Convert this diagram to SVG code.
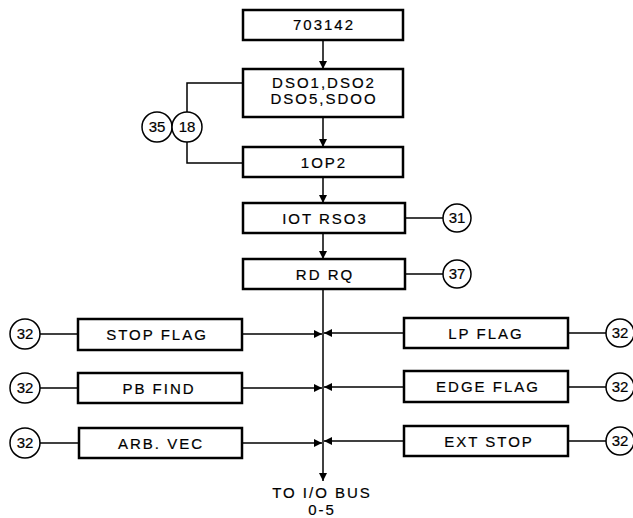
<svg xmlns="http://www.w3.org/2000/svg" width="633" height="518" viewBox="0 0 633 518">
<style>
.box{fill:#fff;stroke:#000;stroke-width:2.5}
.circ{fill:#fff;stroke:#000;stroke-width:1.5}
.ln{fill:none;stroke:#000;stroke-width:1.5}
text{font-family:"Liberation Sans",Arial,sans-serif;font-size:15px;letter-spacing:2px;fill:#000;stroke:#000;stroke-width:0.2;text-anchor:middle}
.cn{font-size:15px;letter-spacing:0px}
</style>
<defs>
<marker id="ah" viewBox="0 0 10 10" refX="10" refY="5" markerWidth="10" markerHeight="8" markerUnits="userSpaceOnUse" orient="auto">
<path d="M0,0 L10,5 L0,10 z" fill="#000"/>
</marker>
</defs>
<rect x="0" y="0" width="633" height="518" fill="#fff"/>
<g id="connectors">
<line class="ln" x1="323" y1="40" x2="323" y2="69" marker-end="url(#ah)"/>
<line class="ln" x1="323" y1="117" x2="323" y2="147" marker-end="url(#ah)"/>
<line class="ln" x1="323" y1="177" x2="323" y2="203" marker-end="url(#ah)"/>
<line class="ln" x1="323" y1="233" x2="323" y2="259" marker-end="url(#ah)"/>
<line class="ln" x1="323" y1="289" x2="323" y2="481" marker-end="url(#ah)"/>
<polyline class="ln" points="243,83 187,83 187,112"/>
<polyline class="ln" points="187,142 187,163 243,163"/>
<line class="ln" x1="405" y1="218" x2="443" y2="218"/>
<line class="ln" x1="405" y1="274" x2="443" y2="274"/>
<line class="ln" x1="40" y1="334" x2="78" y2="334"/>
<line class="ln" x1="40" y1="388" x2="78" y2="388"/>
<line class="ln" x1="40" y1="443" x2="78" y2="443"/>
<line class="ln" x1="242" y1="334" x2="322" y2="334" marker-end="url(#ah)"/>
<line class="ln" x1="242" y1="388" x2="322" y2="388" marker-end="url(#ah)"/>
<line class="ln" x1="242" y1="443" x2="322" y2="443" marker-end="url(#ah)"/>
<line class="ln" x1="404" y1="333" x2="324" y2="333" marker-end="url(#ah)"/>
<line class="ln" x1="404" y1="387" x2="324" y2="387" marker-end="url(#ah)"/>
<line class="ln" x1="404" y1="441" x2="324" y2="441" marker-end="url(#ah)"/>
<line class="ln" x1="568" y1="333" x2="606" y2="333"/>
<line class="ln" x1="568" y1="387" x2="606" y2="387"/>
<line class="ln" x1="568" y1="441" x2="606" y2="441"/>
</g>
<g id="n703142"><rect class="box" x="243" y="10" width="160" height="30"/><text x="324" y="30">703142</text></g>
<g id="nDSO"><rect class="box" x="243" y="69" width="160" height="48"/><text x="324" y="88">DSO1,DSO2</text><text x="324" y="104">DSO5,SDOO</text></g>
<g id="n1OP2"><rect class="box" x="243" y="147" width="160" height="30"/><text x="324" y="168">1OP2</text></g>
<g id="nIOT"><rect class="box" x="243" y="203" width="162" height="30"/><text x="325" y="224">IOT RSO3</text></g>
<g id="nRDRQ"><rect class="box" x="243" y="259" width="162" height="30"/><text x="325" y="280">RD RQ</text></g>
<g id="c35"><circle class="circ" cx="157" cy="127" r="15"/><text class="cn" x="157" y="132">35</text></g>
<g id="c18"><circle class="circ" cx="187" cy="127" r="15"/><text class="cn" x="187" y="132">18</text></g>
<g id="c31"><circle class="circ" cx="457" cy="218" r="14"/><text class="cn" x="457" y="223">31</text></g>
<g id="c37"><circle class="circ" cx="457" cy="274" r="14"/><text class="cn" x="457" y="279">37</text></g>
<g id="nStop"><rect class="box" x="78" y="319" width="164" height="31"/><text x="157" y="340">STOP FLAG</text></g>
<g id="nPB"><rect class="box" x="78" y="373" width="164" height="30"/><text x="159" y="394">PB FIND</text></g>
<g id="nARB"><rect class="box" x="79" y="428" width="163" height="30"/><text x="161" y="449">ARB. VEC</text></g>
<g id="c32a"><circle class="circ" cx="25" cy="334" r="15"/><text class="cn" x="25" y="339">32</text></g>
<g id="c32b"><circle class="circ" cx="25" cy="388" r="15"/><text class="cn" x="25" y="393">32</text></g>
<g id="c32c"><circle class="circ" cx="25" cy="443" r="15"/><text class="cn" x="25" y="448">32</text></g>
<g id="nLP"><rect class="box" x="404" y="318" width="164" height="30"/><text x="486" y="339">LP FLAG</text></g>
<g id="nEdge"><rect class="box" x="404" y="371" width="164" height="31"/><text x="488" y="392">EDGE FLAG</text></g>
<g id="nExt"><rect class="box" x="404" y="426" width="164" height="30"/><text x="489" y="447">EXT STOP</text></g>
<g id="c32d"><circle class="circ" cx="620" cy="333" r="14"/><text class="cn" x="620" y="338">32</text></g>
<g id="c32e"><circle class="circ" cx="620" cy="387" r="14"/><text class="cn" x="620" y="392">32</text></g>
<g id="c32f"><circle class="circ" cx="620" cy="441" r="14"/><text class="cn" x="620" y="446">32</text></g>
<g id="bus"><text x="322" y="498">TO I/O BUS</text><text x="322" y="515">0-5</text></g>
</svg>
